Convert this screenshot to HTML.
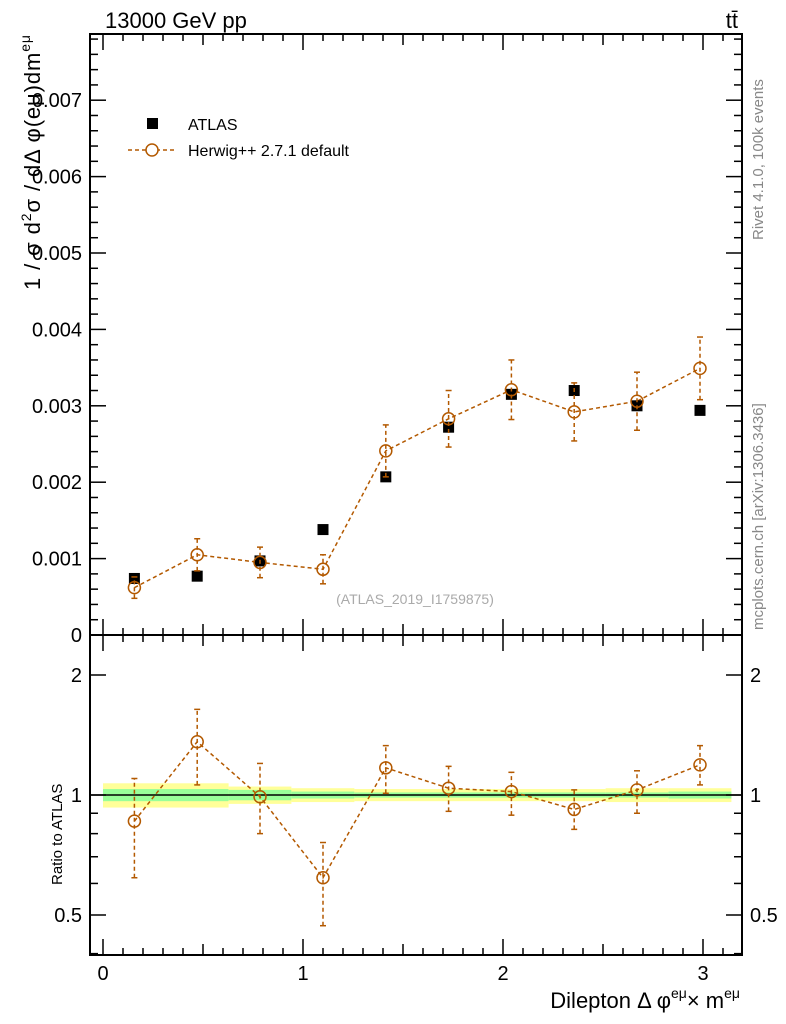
<!DOCTYPE html>
<html><head><meta charset="utf-8"><style>
body{margin:0;background:#fff}
svg{display:block;font-family:"Liberation Sans",sans-serif}
</style></head><body>
<svg id="c" width="786" height="1024" viewBox="0 0 786 1024" xmlns="http://www.w3.org/2000/svg">
<g id="bands"></g>
<g id="marks"></g>
<g id="axes"></g>
<text x="105" y="28" font-size="22">13000 GeV pp</text>
<text x="738" y="28" font-size="22" text-anchor="end">tt̄</text>
<text transform="translate(40,290) rotate(-90)" font-size="22" textLength="255">1 / σ  d<tspan font-size="14" dy="-9">2</tspan><tspan dy="9">σ / dΔ φ(eμ)dm</tspan><tspan font-size="14" dy="-10">eμ</tspan></text>
<text transform="translate(62,885) rotate(-90)" font-size="15">Ratio to ATLAS</text>
<text x="740" y="1008" font-size="22" text-anchor="end">Dilepton Δ φ<tspan font-size="14" dy="-10">eμ</tspan><tspan dy="10">× m</tspan><tspan font-size="14" dy="-10">eμ</tspan></text>
<text transform="translate(763,240) rotate(-90)" font-size="15" fill="#888">Rivet 4.1.0,  100k events</text>
<text transform="translate(763,630) rotate(-90)" font-size="15" fill="#888">mcplots.cern.ch [arXiv:1306.3436]</text>
<text x="415" y="604" font-size="14" fill="#aaa" text-anchor="middle">(ATLAS_2019_I1759875)</text>
<g>
<rect x="147" y="118" width="11" height="11" fill="#000"/>
<text x="188" y="130" font-size="16">ATLAS</text>
<line x1="128" y1="150" x2="175" y2="150" stroke="#b35900" stroke-width="1.5" stroke-dasharray="4,3"/>
<circle cx="152" cy="150" r="6" fill="#fff" stroke="#b35900" stroke-width="1.5"/>
<text x="188" y="156" font-size="16">Herwig++ 2.7.1 default</text>
</g>
</svg>
<script>
const xCenters=[0.157,0.471,0.785,1.100,1.414,1.728,2.042,2.356,2.670,2.985];
const atlasVals=[0.00074,0.00077,0.00097,0.00138,0.00207,0.00272,0.00315,0.00320,0.00300,0.00294];
const herwigVals=[0.00062,0.00105,0.00095,0.00086,0.00241,0.00283,0.00321,0.00292,0.00306,0.00349];
const herwigErr=[0.00014,0.00021,0.00020,0.00019,0.00034,0.00037,0.00039,0.00038,0.00038,0.00041];
const ratioVals=[0.86,1.36,0.99,0.62,1.17,1.04,1.02,0.92,1.03,1.19];
const ratioLo=[0.62,1.06,0.80,0.47,1.01,0.91,0.89,0.82,0.90,1.06];
const ratioHi=[1.10,1.64,1.20,0.76,1.33,1.18,1.14,1.03,1.15,1.33];
const bandEdges=[0,0.628,0.942,1.257,2.513,2.827,3.142];
const yellowHalf=[0.07,0.05,0.04,0.035,0.04,0.04];
const greenHalf=[0.035,0.03,0.02,0.015,0.015,0.02];
const xTicks=[0,1,2,3];
const yTicks=[0,0.001,0.002,0.003,0.004,0.005,0.006,0.007];
const rTicks=[0.5,1,2];

const NS="http://www.w3.org/2000/svg";
const L=90,R=742,T=34,B1=635,B2=955;
const X=v=>103+200*v;
const Y=v=>635-76.4e3*v;
const RY=v=>795-120*Math.log2(v);
function mk(par,tag,a){const e=document.createElementNS(NS,tag);for(const k in a)e.setAttribute(k,a[k]);document.getElementById(par).appendChild(e);return e;}
const BR="#b35900";

for(let i=0;i<bandEdges.length-1;i++){
 const x1=X(bandEdges[i]),x2=X(Math.min(bandEdges[i+1],3.185));
 let e=mk('bands','rect',{x:x1,y:RY(1+yellowHalf[i]),width:x2-x1,height:RY(1-yellowHalf[i])-RY(1+yellowHalf[i]),fill:'#ffff99'});
 
 
 e=mk('bands','rect',{x:x1,y:RY(1+greenHalf[i]),width:x2-x1,height:RY(1-greenHalf[i])-RY(1+greenHalf[i]),fill:'#99ff99'});
 
 
}
let ln=mk('bands','line',{x1:L,x2:R,y1:RY(1),y2:RY(1),stroke:'#000','stroke-width':1.5});



let pts=xCenters.map((x,i)=>X(x)+','+Y(herwigVals[i])).join(' ');
let pl=mk('marks','polyline',{points:pts,fill:'none',stroke:BR,'stroke-width':1.5,'stroke-dasharray':'4,3'});


xCenters.forEach((x,i)=>{
 const cx=X(x);
 const a=mk('marks','rect',{x:cx-5.5,y:Y(atlasVals[i])-5.5,width:11,height:11,fill:'#000'});
 
 
 const e=mk('marks','line',{x1:cx,x2:cx,y1:Y(herwigVals[i]-herwigErr[i]),y2:Y(herwigVals[i]+herwigErr[i]),stroke:BR,'stroke-width':1.5,'stroke-dasharray':'4,3'});
 
 
 [herwigVals[i]-herwigErr[i],herwigVals[i]+herwigErr[i]].forEach(v=>{const c=mk('marks','line',{x1:cx-3,x2:cx+3,y1:Y(v),y2:Y(v),stroke:BR,'stroke-width':1.5});});
 const p=mk('marks','circle',{cx:cx,cy:Y(herwigVals[i]),r:6,fill:'none',stroke:BR,'stroke-width':1.5});
 
 
});
pts=xCenters.map((x,i)=>X(x)+','+RY(ratioVals[i])).join(' ');
pl=mk('marks','polyline',{points:pts,fill:'none',stroke:BR,'stroke-width':1.5,'stroke-dasharray':'4,3'});


xCenters.forEach((x,i)=>{
 const cx=X(x);
 const e=mk('marks','line',{x1:cx,x2:cx,y1:RY(ratioLo[i]),y2:RY(ratioHi[i]),stroke:BR,'stroke-width':1.5,'stroke-dasharray':'4,3'});
 
 
 [ratioLo[i],ratioHi[i]].forEach(v=>{const c=mk('marks','line',{x1:cx-3,x2:cx+3,y1:RY(v),y2:RY(v),stroke:BR,'stroke-width':1.5});});
 const p=mk('marks','circle',{cx:cx,cy:RY(ratioVals[i]),r:6,fill:'none',stroke:BR,'stroke-width':1.5});
 
 
});

[[T,B1,'main-frame'],[B1,B2,'ratio-frame']].forEach(f=>{
 const r=mk('axes','rect',{x:L,y:f[0],width:R-L,height:f[1]-f[0],fill:'none',stroke:'#000','stroke-width':2});
 
 
});
function tk(x1,y1,x2,y2){const t=mk('axes','line',{x1,y1,x2,y2,stroke:'#000','stroke-width':1.5});}
for(let k=0;k<=31;k++){const v=k/10,x=X(v);const major=k%10===0,len=major?16:(k%5===0?11:7);
 [[T,1],[B1,-1],[B1,1],[B2,-1]].forEach(([y,d])=>tk(x,y,x,y+d*len));}
xTicks.forEach(v=>{const t=mk('axes','text',{x:X(v),y:980,'font-size':20,'text-anchor':'middle'});t.textContent=v;});
for(let k=0;k<=39;k++){const v=k*0.0002,y=Y(v);if(y<T)break;const len=k%5===0?16:8;tk(L,y,L+len,y);tk(R,y,R-len,y);}
yTicks.forEach(v=>{const t=mk('axes','text',{x:82,y:Y(v)+7,'font-size':20,'text-anchor':'end'});t.textContent=v===0?'0':v.toFixed(3);});
[0.4,0.5,0.6,0.7,0.8,0.9,1,2].forEach(v=>{const y=RY(v);const len=[0.5,1,2].includes(v)?16:8;tk(L,y,L+len,y);tk(R,y,R-len,y);});
rTicks.forEach(v=>{[[82,'end'],[750,'start']].forEach(([x,a])=>{const t=mk('axes','text',{x,y:RY(v)+7,'font-size':20,'text-anchor':a});t.textContent=v;});});
</script>
</body></html>
